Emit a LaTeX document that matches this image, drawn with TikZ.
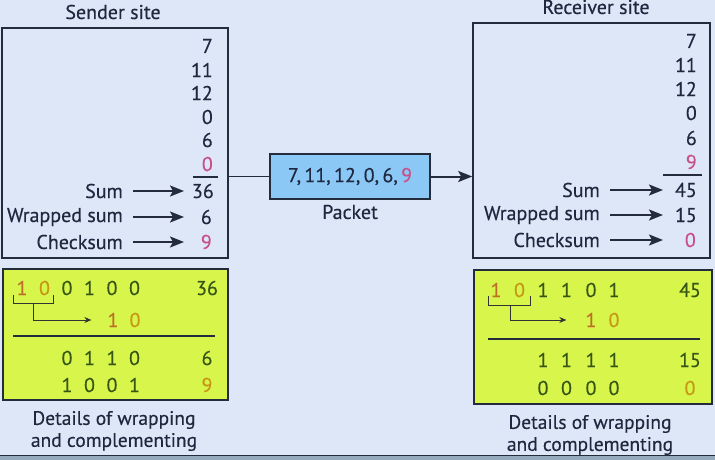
\documentclass[tikz,border=0pt]{standalone}
\usepackage{fontspec}
\setmainfont{PT Sans}[FakeBold=0.35]
\usetikzlibrary{arrows.meta}
\definecolor{bg}{RGB}{222,231,248}
\definecolor{ink}{RGB}{32,40,64}
\definecolor{edge}{RGB}{36,44,60}
\definecolor{pinkc}{RGB}{200,80,135}
\definecolor{grn}{RGB}{215,245,75}
\definecolor{pkt}{RGB}{140,200,245}
\definecolor{dgrn}{RGB}{55,85,20}
\definecolor{gold}{RGB}{200,150,20}
\definecolor{orng}{RGB}{190,110,40}
\definecolor{strip}{RGB}{150,170,190}
\tikzset{
  txt/.style={font=\fontsize{20}{22}\selectfont, text=ink, inner sep=0pt},
  sitebox/.style={draw=edge, line width=1.6pt, fill=bg, inner sep=0pt},
  grnbox/.style={draw=edge, line width=1.6pt, fill=grn, inner sep=0pt},
  pktbox/.style={draw=edge, line width=1.8pt, fill=pkt, inner sep=0pt},
  bigarrow/.style={draw=edge, line width=2pt, -{Stealth[length=14pt,width=11pt,inset=3pt]}},
  wire/.style={draw=edge, line width=1.8pt},
  thin/.style={draw=black!80, line width=1pt},
  dig/.style={txt, text=dgrn},
}
\begin{document}
\begin{tikzpicture}[x=1pt,y=-1pt]
\fill[bg] (0,0) rectangle (715,460);
\useasboundingbox (0,0) rectangle (715,460);
\fill[strip] (0,455) rectangle (715,460);
\draw[edge, line width=1pt] (0,455) -- (715,455);

% boxes
\node[sitebox, minimum width=226pt, minimum height=230pt] (sbox) at (115,143) {};
\node[sitebox, minimum width=237pt, minimum height=235pt] (rbox) at (591.5,140.5) {};
\node[grnbox, minimum width=225pt, minimum height=131pt] (sgrn) at (115.5,334.5) {};
\node[grnbox, minimum width=238pt, minimum height=134pt] (rgrn) at (593,337) {};
\node[pktbox, minimum width=160pt, minimum height=45pt, txt] (packet) at (350,176.5) {7,\,11,\,12,\,0,\,6,\,\textcolor{pinkc}{9}};

% titles
\node[txt] (stitle) at (113,12) {Sender site};
\node[txt] (rtitle) at (596,7) {Receiver site};
\node[txt] (plabel) at (350,212) {Packet};

% connectors packet
\draw[wire] (packet.west -| sbox.east) -- (packet.west);
\draw[bigarrow] (packet.east) -- (packet.east -| rbox.west);

% sender numbers
\foreach \y/\v/\c [count=\i] in {46/7/ink, 70/11/ink, 93/12/ink, 117/0/ink, 140/6/ink, 164/0/pinkc}
  \node[txt, anchor=east, text=\c] (sn\i) at (213,\y) {\v};
\draw[wire, line width=1.2pt] (193,177) -- (218,177);
\node[txt, anchor=east] (ssum) at (214,191) {36};
\node[txt, anchor=east] (swrap) at (212,217) {6};
\node[txt, anchor=east, text=pinkc] (schk) at (212,242) {9};
\node[txt, anchor=east] (lssum) at (123,191) {Sum};
\node[txt, anchor=east] (lswrap) at (123,217) {Wrapped sum};
\node[txt, anchor=east] (lschk) at (123,242) {Checksum};
\coordinate (stip) at (184,0);
\draw[bigarrow, shorten <=10pt] (lssum.east) -- (lssum.east -| stip);
\draw[bigarrow, shorten <=10pt] (lswrap.east) -- (lswrap.east -| stip);
\draw[bigarrow, shorten <=10pt] (lschk.east) -- (lschk.east -| stip);

% receiver numbers
\foreach \y/\v/\c [count=\i] in {41/7/ink, 65/11/ink, 89/12/ink, 113/0/ink, 138/6/ink, 162/9/pinkc}
  \node[txt, anchor=east, text=\c] (rn\i) at (697,\y) {\v};
\draw[wire, line width=1.2pt] (663,175) -- (702,175);
\node[txt, anchor=east] (rsum) at (697,190) {45};
\node[txt, anchor=east] (rwrap) at (697,215) {15};
\node[txt, anchor=east, text=pinkc] (rchk) at (696,240) {0};
\node[txt, anchor=east] (lrsum) at (600,190) {Sum};
\node[txt, anchor=east] (lrwrap) at (600,215) {Wrapped sum};
\node[txt, anchor=east] (lrchk) at (600,240) {Checksum};
\coordinate (rtip) at (663,0);
\draw[bigarrow, shorten <=10pt] (lrsum.east) -- (lrsum.east -| rtip);
\draw[bigarrow, shorten <=10pt] (lrwrap.east) -- (lrwrap.east -| rtip);
\draw[bigarrow, shorten <=10pt] (lrchk.east) -- (lrchk.east -| rtip);

% sender green details
\foreach \x/\v/\c [count=\i] in {22/1/orng, 44.5/0/gold, 67/0/dgrn, 89.5/1/dgrn, 112/0/dgrn, 134.5/0/dgrn}
  \node[dig, text=\c] (sa\i) at (\x,288) {\v};
\node[dig] (sav) at (207,288) {36};
\draw[thin] (13,295) -- (13,303) -- (53,303) -- (53,295);
\node[dig, text=orng] (sb1) at (113,320) {1};
\node[dig, text=gold] (sb2) at (135,320) {0};
\coordinate (sstem) at (33,303);
\draw[thin, -{Stealth[length=7pt,width=6pt]}] (sstem) |- ([xshift=-16pt]sb1.west);
\draw[edge, line width=1.2pt] (13,336) -- (215,336);
\foreach \x/\v [count=\i] in {67/0, 89.5/1, 112/1, 134.5/0}
  \node[dig] (sc\i) at (\x,358) {\v};
\node[dig] (scv) at (207,358) {6};
\foreach \x/\v [count=\i] in {67/1, 89.5/0, 112/0, 134.5/1}
  \node[dig] (sd\i) at (\x,385) {\v};
\node[dig, text=gold] (sdv) at (207,385) {9};
\node[txt, align=center, font=\fontsize{19.5}{22}\selectfont] (scap) at (114,431) {Details of wrapping\\and complementing};

% receiver green details
\foreach \x/\v/\c [count=\i] in {496/1/orng, 519.5/0/gold, 543/1/dgrn, 566.5/1/dgrn, 591/0/dgrn, 614/1/dgrn}
  \node[dig, text=\c] (ra\i) at (\x,290) {\v};
\node[dig] (rav) at (690,290) {45};
\draw[thin] (488,296) -- (488,305) -- (530,305) -- (530,296);
\node[dig, text=orng] (rb1) at (591,320) {1};
\node[dig, text=gold] (rb2) at (614,320) {0};
\coordinate (rstem) at (510,305);
\draw[thin, -{Stealth[length=7pt,width=6pt]}] (rstem) |- ([xshift=-19pt]rb1.west);
\draw[edge, line width=1.2pt] (488,339) -- (700,339);
\foreach \x/\v [count=\i] in {543/1, 566.5/1, 591/1, 614/1}
  \node[dig] (rc\i) at (\x,360) {\v};
\node[dig] (rcv) at (690,360) {15};
\foreach \x/\v [count=\i] in {543/0, 566.5/0, 591/0, 614/0}
  \node[dig] (rd\i) at (\x,388) {\v};
\node[dig, text=gold] (rdv) at (690,388) {0};
\node[txt, align=center, font=\fontsize{19.5}{22}\selectfont] (rcap) at (590,435) {Details of wrapping\\and complementing};
\end{tikzpicture}
\end{document}
